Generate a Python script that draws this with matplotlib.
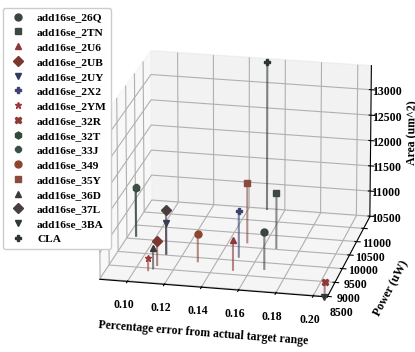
import matplotlib
matplotlib.use('Agg')
import matplotlib.pyplot as plt

plt.rcParams['font.family'] = ['Liberation Serif', 'DejaVu Serif']
plt.rcParams['font.weight'] = 'bold'

names = ['add16se_26Q', 'add16se_2TN', 'add16se_2U6', 'add16se_2UB', 'add16se_2UY',
         'add16se_2X2', 'add16se_2YM', 'add16se_32R', 'add16se_32T', 'add16se_33J',
         'add16se_349', 'add16se_35Y', 'add16se_36D', 'add16se_37L', 'add16se_3BA', 'CLA']
err = [0.167, 0.167, 0.151, 0.110, 0.111, 0.150, 0.107, 0.205, 0.089, 0.089,
       0.130, 0.150, 0.109, 0.111, 0.206, 0.150]
power = [9280, 10055, 9165, 9130, 9550, 9640, 8925, 8620, 10110, 10115,
         9370, 10175, 9000, 9550, 8480, 11450]
area = [11210, 11570, 11070, 10960, 11100, 11380, 10730, 10700, 11440, 11440,
        11020, 11650, 10890, 11350, 10490, 13405]

colors = ['#3a4440', '#3d4843', '#8b3a3a', '#7d3530', '#353a60', '#3d4270', '#a03838',
          '#8e3838', '#2f4a3a', '#3c5045', '#8c4530', '#8a4a40', '#3a3a3a', '#4a3d3d',
          '#303838', '#2e3535']
markers = ['o', 's', '^', 'D', 'v', 'P', '*', 'X', 'h', '8', 'o', 's', '^', 'D', 'v', 'P']

xlim = (0.085, 0.2075)
ylim = (8480, 11450)
zlim = (10490, 13470)

fig = plt.figure(figsize=(4.15, 3.52), dpi=100)
ax = fig.add_axes([0.11, 0.0, 0.90, 1.0], projection='3d')
ax.set_proj_type('persp', focal_length=2.5)
ax.set_box_aspect((4, 4, 2.85))

for n, x, y, z, c, m in zip(names, err, power, area, colors, markers):
    ax.plot([x, x], [y, y], [zlim[0], z], color=c, alpha=0.6, lw=1.5)
    ax.plot([x], [y], [z], marker=m, color=c, ms=5, linestyle='none', label=n)

ax.set_xlim(*xlim)
ax.set_ylim(*ylim)
ax.set_zlim(*zlim)
ax.set_xticks([0.10, 0.12, 0.14, 0.16, 0.18, 0.20])
ax.set_yticks([8500, 9000, 9500, 10000, 10500, 11000])
ax.set_zticks([10500, 11000, 11500, 12000, 12500, 13000])
ax.view_init(elev=20, azim=-78)

for t in ax.get_xticklabels() + ax.get_yticklabels() + ax.get_zticklabels():
    t.set_fontsize(8.5)
    t.set_fontweight('bold')
ax.xaxis.set_tick_params(pad=2)
ax.yaxis.set_tick_params(pad=0)
ax.zaxis.set_tick_params(pad=0)
ax.set_xlabel('Percentage error from actual target range', fontsize=8.5, fontweight='bold', labelpad=4)
ax.set_ylabel('Power (uW)', fontsize=8.5, fontweight='bold', labelpad=4)
ax.set_zlabel('Area (um^2)', fontsize=8.5, fontweight='bold', labelpad=0)
ax.zaxis.set_ticks_position('upper')
ax.zaxis.set_label_position('upper')

fig.legend(loc='upper left', bbox_to_anchor=(0.007, 0.977), borderaxespad=0,
           prop={'family': 'Liberation Serif', 'weight': 'bold', 'size': 8.2},
           frameon=True, fancybox=True, framealpha=1.0, borderpad=0.4,
           handlelength=1.8, labelspacing=0.42)

fig.savefig('out.png', dpi=100)
